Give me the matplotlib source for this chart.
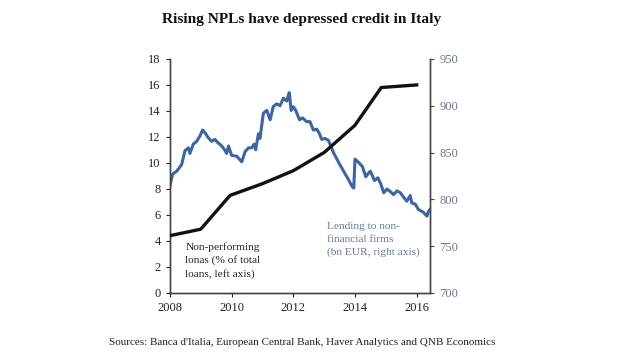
import matplotlib
matplotlib.use("Agg")
import matplotlib.pyplot as plt

# NPL ratio (% of total loans, left axis)
npl_years = [2008.0, 2009.0, 2009.95, 2011.0, 2012.0, 2013.0, 2014.0, 2014.85, 2016.0]
npl_values = [4.4, 4.9, 7.5, 8.4, 9.4, 10.8, 12.9, 15.8, 16.0]

# Lending to non-financial firms (bn EUR, right axis)
lend_years = [2008.0, 2008.09, 2008.22, 2008.38, 2008.49, 2008.6, 2008.65, 2008.76, 2008.87,
              2008.98, 2009.06, 2009.14, 2009.24, 2009.35, 2009.46, 2009.54, 2009.68, 2009.79,
              2009.84, 2009.9, 2010.0, 2010.17, 2010.33, 2010.44, 2010.55, 2010.65, 2010.73,
              2010.78, 2010.87, 2010.92, 2011.03, 2011.14, 2011.25, 2011.35, 2011.46, 2011.57,
              2011.68, 2011.79, 2011.84, 2011.87, 2011.93, 2012.0, 2012.08, 2012.2, 2012.3,
              2012.43, 2012.54, 2012.65, 2012.76, 2012.85, 2012.92, 2013.03, 2013.14, 2013.3,
              2013.46, 2013.63, 2013.79, 2013.9, 2013.96, 2014.0, 2014.13, 2014.24, 2014.35,
              2014.46, 2014.5, 2014.63, 2014.74, 2014.84, 2014.93, 2015.04, 2015.15, 2015.25,
              2015.36, 2015.47, 2015.58, 2015.68, 2015.79, 2015.84, 2015.95, 2016.06, 2016.22,
              2016.33, 2016.38, 2016.43]
lend_values = [814, 827, 830, 837, 852, 855, 849, 859, 862,
               868, 874, 871, 866, 862, 864, 861, 857, 852,
               849, 857, 847, 846, 840, 851, 855, 855, 859,
               853, 870, 865, 892, 895, 885, 899, 902, 900,
               908, 905, 911, 914, 895, 899, 895, 885, 887,
               883, 883, 874, 875, 870, 864, 865, 863, 850,
               840, 830, 821, 814, 812, 843, 839, 835, 824,
               829, 830, 820, 823, 816, 807, 811, 808, 805,
               809, 807, 802, 798, 804, 796, 795, 789, 786,
               782, 787, 789]

x_ticks = [2008, 2010, 2012, 2014, 2016]
left_ticks = list(range(0, 19, 2))
right_ticks = list(range(700, 951, 50))

plt.rcParams['font.family'] = ['Liberation Serif', 'DejaVu Serif']

fig = plt.figure(figsize=(6.2, 3.55), dpi=100)
ax = fig.add_axes([0.274, 0.175, 0.42, 0.659])
ax2 = ax.twinx()

black = '#111111'
blue = '#3d65a3'
rgray = '#6a7893'

ax.plot(npl_years, npl_values, color=black, lw=2.4, zorder=3)
ax2.plot(lend_years, lend_values, color=blue, lw=2.2, zorder=2)
ax.set_zorder(ax2.get_zorder() + 1)
ax.patch.set_visible(False)

ax.set_xlim(2008, 2016.44)
ax.set_ylim(0, 18)
ax2.set_ylim(700, 950)
ax.set_xticks(x_ticks)
ax.set_yticks(left_ticks)
ax2.set_yticks(right_ticks)

for a in (ax, ax2):
    a.spines['top'].set_visible(False)
    for s in ('left', 'right', 'bottom'):
        a.spines[s].set_color('#444444')
        a.spines[s].set_linewidth(1.0)

ax.tick_params(axis='both', labelsize=9, colors='#222222', length=3, width=0.8)
ax2.tick_params(axis='y', labelsize=9, colors=rgray, length=3, width=0.8)
ax2.tick_params(axis='y', color='#444444')

ax.text(2008.5, 3.92, "Non-performing\nlonas (% of total\nloans, left axis)",
        fontsize=8.2, color='#222222', va='top', ha='left', linespacing=1.5)
ax.text(2013.1, 5.42, "Lending to non-\nfinancial firms\n(bn EUR, right axis)",
        fontsize=8.2, color=rgray, va='top', ha='left', linespacing=1.5)

fig.text(0.487, 0.944, "Rising NPLs have depressed credit in Italy",
         fontsize=11.1, fontweight='bold', ha='center', va='center', color='#111111')
fig.text(0.488, 0.034, "Sources: Banca d'Italia, European Central Bank, Haver Analytics and QNB Economics",
         fontsize=8, ha='center', va='center', color='#222222')

fig.savefig('out.png', dpi=100)
